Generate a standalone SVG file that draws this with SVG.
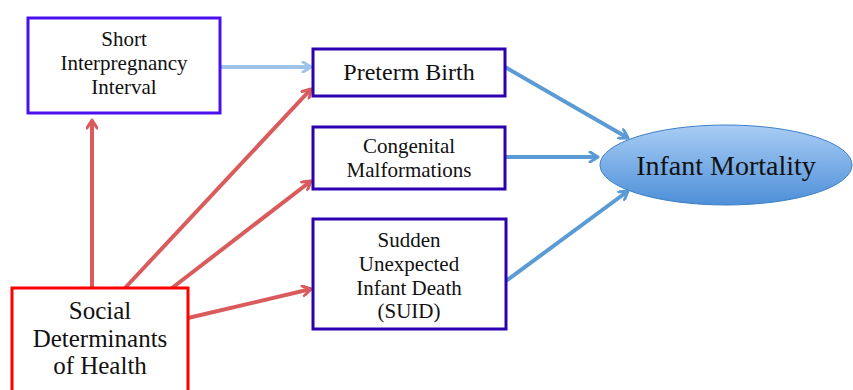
<svg xmlns="http://www.w3.org/2000/svg" width="853" height="390" viewBox="0 0 853 390">
<defs>
<linearGradient id="ell" x1="0" y1="0" x2="0" y2="1">
<stop offset="0" stop-color="#a9cdf5"/>
<stop offset="1" stop-color="#4d8fd8"/>
</linearGradient>
<marker id="aRed" viewBox="0 0 12 12" refX="10" refY="6" markerWidth="12" markerHeight="12" markerUnits="userSpaceOnUse" orient="auto">
<path d="M2,1 L10,6 L2,11" fill="none" stroke="#d95b5b" stroke-width="3" stroke-linecap="round" stroke-linejoin="round"/>
</marker>
<marker id="aBlue" viewBox="0 0 12 12" refX="10" refY="6" markerWidth="12" markerHeight="12" markerUnits="userSpaceOnUse" orient="auto">
<path d="M2,1 L10,6 L2,11" fill="none" stroke="#5b9bd5" stroke-width="3" stroke-linecap="round" stroke-linejoin="round"/>
</marker>
<marker id="aLight" viewBox="0 0 12 12" refX="10" refY="6" markerWidth="12" markerHeight="12" markerUnits="userSpaceOnUse" orient="auto">
<path d="M2,1 L10,6 L2,11" fill="none" stroke="#9dc3e6" stroke-width="3" stroke-linecap="round" stroke-linejoin="round"/>
</marker>
</defs>
<style>
text{font-family:"Liberation Serif","DejaVu Serif",serif;fill:#111;text-anchor:middle}
.box{fill:#fff;stroke-width:3}
.v{stroke:#4a10f0}
.d{stroke:#2c00b0}
.red{stroke:#ff0000}
.cr{stroke:#d95b5b;stroke-width:4;fill:none;marker-end:url(#aRed)}
.cb{stroke:#5b9bd5;stroke-width:4;fill:none;marker-end:url(#aBlue)}
.cl{stroke:#9dc3e6;stroke-width:4;fill:none;marker-end:url(#aLight)}
.s17{font-size:21px}
.s21{font-size:24px}
.s22{font-size:25px}
.s24{font-size:28px}
</style>
<rect width="853" height="390" fill="#fff"/>
<g id="connectors">
<line class="cl" x1="220" y1="67" x2="311" y2="67"/>
<line class="cr" x1="92" y1="288" x2="92" y2="120"/>
<line class="cr" x1="125" y1="288" x2="311" y2="89"/>
<line class="cr" x1="172" y1="288" x2="311" y2="181"/>
<line class="cr" x1="188" y1="318" x2="311" y2="289"/>
<line class="cb" x1="505" y1="67" x2="628" y2="138"/>
<line class="cb" x1="505" y1="157" x2="598" y2="157"/>
<line class="cb" x1="506" y1="281" x2="628" y2="191"/>
</g>
<g id="short">
<rect class="box v" x="28" y="18" width="192" height="95"/>
<text class="s17" x="124" y="46">Short</text>
<text class="s17" x="124" y="70">Interpregnancy</text>
<text class="s17" x="124" y="94">Interval</text>
</g>
<g id="preterm">
<rect class="box d" x="313" y="49" width="192" height="47"/>
<text class="s21" x="409" y="80">Preterm Birth</text>
</g>
<g id="congenital">
<rect class="box d" x="313" y="127" width="192" height="62"/>
<text class="s17" x="409" y="153">Congenital</text>
<text class="s17" x="409" y="177">Malformations</text>
</g>
<g id="suid">
<rect class="box d" x="313" y="219" width="193" height="110"/>
<text class="s17" x="409" y="247">Sudden</text>
<text class="s17" x="409" y="271">Unexpected</text>
<text class="s17" x="409" y="295">Infant Death</text>
<text class="s17" x="409" y="318">(SUID)</text>
</g>
<g id="social">
<rect class="box red" x="12" y="288" width="176" height="110"/>
<text class="s22" x="100" y="319">Social</text>
<text class="s22" x="100" y="347">Determinants</text>
<text class="s22" x="100" y="374">of Health</text>
</g>
<g id="infant">
<ellipse cx="726" cy="165" rx="126" ry="40" fill="url(#ell)" stroke="#3f7fc4" stroke-width="1"/>
<text class="s24" x="726" y="175">Infant Mortality</text>
</g>
</svg>
